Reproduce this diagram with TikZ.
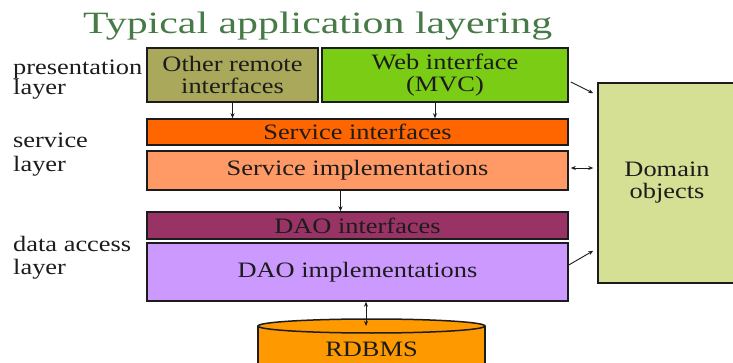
\documentclass[tikz,border=0pt]{standalone}
\usepackage{fontspec}
\setmainfont[FakeStretch=1.2]{Liberation Serif}
\newfontfamily\titlef[FakeStretch=1.35]{Liberation Serif}
\usetikzlibrary{arrows.meta}
\definecolor{titlegreen}{HTML}{467A46}
\definecolor{olivebox}{HTML}{AAA85A}
\definecolor{webgreen}{HTML}{7ACC15}
\definecolor{sifill}{HTML}{FF6600}
\definecolor{simpfill}{HTML}{FF9966}
\definecolor{daifill}{HTML}{993366}
\definecolor{dimfill}{HTML}{CC99FF}
\definecolor{dbfill}{HTML}{FF9900}
\definecolor{domfill}{HTML}{D6E094}
\definecolor{ink}{HTML}{1C1C1C}
\begin{document}
\begin{tikzpicture}[x=1pt,y=-1pt,
  box/.style={draw=ink, line width=1.5pt, inner sep=0pt, align=center,
    font=\rmfamily\fontsize{22}{22}\selectfont, text=ink},
  lbl/.style={anchor=base west, inner sep=0pt,
    font=\rmfamily\fontsize{22}{22}\selectfont, text=ink},
  arr/.style={line width=0.9pt, draw=ink, -{Stealth[length=5pt,width=4pt]}},
  darr/.style={line width=0.9pt, draw=ink, {Stealth[length=5pt,width=4pt]}-{Stealth[length=5pt,width=4pt]}}]
\useasboundingbox (0,0) rectangle (733,363);
\fill[white] (0,0) rectangle (733,363);

% title
\node[anchor=base west, inner sep=0pt, text=titlegreen,
  font=\titlef\fontsize{31}{31}\selectfont] (title) at (83,34) {Typical application layering};

% layer labels
\node[lbl] (pres1) at (13,75) {presentation};
\node[lbl] (pres2) at (13,95) {layer};
\node[lbl] (serv1) at (13,148) {service};
\node[lbl] (serv2) at (13,172) {layer};
\node[lbl] (data1) at (13,252) {data access};
\node[lbl] (data2) at (13,275) {layer};

% boxes
\node[box, fill=olivebox, minimum width=171pt, minimum height=54pt] (other) at (232.5,75) {Other remote\\interfaces};
\node[box, fill=webgreen, minimum width=246pt, minimum height=54pt] (web) at (445,75) {Web interface\\(MVC)};
\node[box, fill=sifill, minimum width=421pt, minimum height=26pt] (si) at (357.5,132) {Service interfaces};
\node[box, fill=simpfill, minimum width=421pt, minimum height=39pt] (simp) at (357.5,170.5) {Service implementations};
\node[box, fill=daifill, minimum width=421pt, minimum height=27pt] (dai) at (357.5,225.5) {DAO interfaces};
\node[box, fill=dimfill, minimum width=421pt, minimum height=58pt] (dim) at (357.5,272) {DAO implementations};
\node[box, fill=domfill, minimum width=138pt, minimum height=200pt] (dom) at (667,183) {Domain\\objects};

% database cylinder
\fill[dbfill] (258,326) rectangle (485,372);
\draw[ink, line width=1.5pt] (258,326) -- (258,372) (485,326) -- (485,372);
\filldraw[fill=dbfill, draw=ink, line width=1.5pt] (371.5,326) ellipse [x radius=113.5, y radius=7];
\coordinate (dbtop) at (366,326);
\node[inner sep=0pt, text=ink, font=\rmfamily\fontsize{22}{22}\selectfont] (db) at (371.5,349) {RDBMS};

% connectors
\draw[arr] (other.south) -- (other.south |- si.north);
\draw[arr] ([xshift=-10pt]web.south) -- ([xshift=-10pt]web.south |- si.north);
\draw[arr] ([xshift=-17pt]simp.south) -- ([xshift=-17pt]simp.south |- dai.north);
\draw[darr] ([xshift=8.5pt]dim.south) -- (dbtop);
\draw[arr] ([shift={(2pt,-7pt)}]web.east) -- ([shift={(-4pt,-11pt)}]dom.north west);
\draw[darr] ([shift={(2pt,2.5pt)}]simp.east) -- ([shift={(-4pt,2.5pt)}]simp.east -| dom.west);
\draw[arr] ([shift={(0pt,7pt)}]dim.east) -- ([shift={(-4pt,33pt)}]dom.south west);
\end{tikzpicture}
\end{document}
